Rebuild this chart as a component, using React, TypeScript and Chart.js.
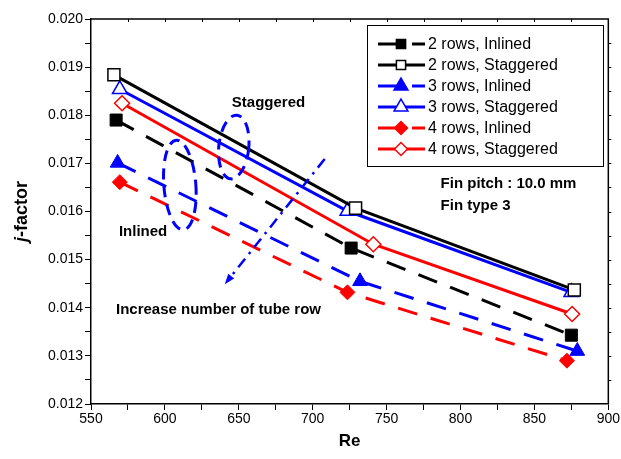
import React, { useEffect, useRef } from 'react';
import { Chart, registerables } from 'chart.js';

Chart.register(...registerables);

// ---- data ----
const re2Inlined = [567, 726, 875];
const j2Inlined = [0.0179, 0.01524, 0.01343];
const re2Staggered = [565.5, 729, 877];
const j2Staggered = [0.01884, 0.01607, 0.01437];
const re3Inlined = [568, 732, 879];
const j3Inlined = [0.01701, 0.01455, 0.0131];
const re3Staggered = [569.5, 723.5, 875];
const j3Staggered = [0.01854, 0.01601, 0.01432];
const re4Inlined = [569.5, 723.5, 872];
const j4Inlined = [0.01661, 0.01432, 0.0129];
const re4Staggered = [571, 741, 875.5];
const j4Staggered = [0.01825, 0.01532, 0.01387];

const seriesLabels = [
  '2 rows, Inlined',
  '2 rows, Staggered',
  '3 rows, Inlined',
  '3 rows, Staggered',
  '4 rows, Inlined',
  '4 rows, Staggered',
];

const xMin = 550;
const xMax = 900;
const xStep = 25;
const xLabelStep = 50;
const yMin = 0.012;
const yMax = 0.02;
const yStep = 0.0005;

// annotations (data coordinates)
const noteTexts = [
  { text: 'Staggered', x: 645.3, y: 0.01825 },
  { text: 'Inlined', x: 568.9, y: 0.01557 },
  { text: 'Increase number of tube row', x: 566.9, y: 0.01395 },
  { text: 'Fin pitch : 10.0 mm', x: 786.5, y: 0.01657 },
  { text: 'Fin type 3', x: 786.5, y: 0.01611 },
];
const noteEllipses = [
  { x: 646.6, y: 0.01734, rx: 15, ry: 32, rot: 0.1 },
  { x: 610.1, y: 0.01655, rx: 16, ry: 45, rot: -0.08 },
];
const noteArrow = { x1: 708.1, y1: 0.01709, x2: 640.5, y2: 0.01449 };

const FONT = "'Liberation Sans', Arial, Helvetica, sans-serif";

const BLACK = '#000000';
const BLUE = '#0000ff';
const RED = '#ff0000';

type Spec = {
  re: number[];
  j: number[];
  color: string;
  style: 'rect' | 'triangle' | 'rectRot';
  filled: boolean;
};

const specs: Spec[] = [
  { re: re2Inlined, j: j2Inlined, color: BLACK, style: 'rect', filled: true },
  { re: re2Staggered, j: j2Staggered, color: BLACK, style: 'rect', filled: false },
  { re: re3Inlined, j: j3Inlined, color: BLUE, style: 'triangle', filled: true },
  { re: re3Staggered, j: j3Staggered, color: BLUE, style: 'triangle', filled: false },
  { re: re4Inlined, j: j4Inlined, color: RED, style: 'rectRot', filled: true },
  { re: re4Staggered, j: j4Staggered, color: RED, style: 'rectRot', filled: false },
];

const plotRadius: Record<string, number> = { rect: 8.5, triangle: 8.5, rectRot: 7.5 };
const legendRadius: Record<string, number> = { rect: 6.5, triangle: 8, rectRot: 6.5 };

function drawMarker(
  ctx: CanvasRenderingContext2D,
  style: string,
  x: number,
  y: number,
  r: number,
  fill: string,
  stroke: string,
  lw: number
) {
  ctx.save();
  ctx.setLineDash([]);
  ctx.beginPath();
  if (style === 'rect') {
    const s = r * Math.SQRT1_2;
    ctx.rect(x - s, y - s, 2 * s, 2 * s);
  } else if (style === 'triangle') {
    for (let k = 0; k < 3; k++) {
      const a = (k * 2 * Math.PI) / 3;
      const px = x + Math.sin(a) * r;
      const py = y - Math.cos(a) * r;
      if (k === 0) ctx.moveTo(px, py);
      else ctx.lineTo(px, py);
    }
    ctx.closePath();
  } else {
    ctx.moveTo(x - r, y);
    ctx.lineTo(x, y - r);
    ctx.lineTo(x + r, y);
    ctx.lineTo(x, y + r);
    ctx.closePath();
  }
  ctx.fillStyle = fill;
  ctx.fill();
  ctx.lineWidth = lw;
  ctx.strokeStyle = stroke;
  ctx.stroke();
  ctx.restore();
}

const decorPlugin = {
  id: 'decor',
  afterDatasetsDraw(chart: any) {
    const ctx: CanvasRenderingContext2D = chart.ctx;
    const xs = chart.scales.x;
    const ys = chart.scales.y;
    const ca = chart.chartArea;

    // frame: top and right
    ctx.save();
    ctx.strokeStyle = BLACK;
    ctx.lineWidth = 1.5;
    ctx.beginPath();
    ctx.moveTo(ca.left, ca.top);
    ctx.lineTo(ca.right, ca.top);
    ctx.lineTo(ca.right, ca.bottom);
    ctx.stroke();
    ctx.lineWidth = 1;
    ctx.beginPath();
    for (let v = xMin + xStep; v < xMax; v += xStep) {
      const px = Math.round(xs.getPixelForValue(v)) + 0.5;
      ctx.moveTo(px, ca.top);
      ctx.lineTo(px, ca.top + 3);
    }
    for (let k = 1; k < Math.round((yMax - yMin) / yStep); k++) {
      const py = Math.round(ys.getPixelForValue(yMin + k * yStep)) + 0.5;
      ctx.moveTo(ca.right, py);
      ctx.lineTo(ca.right + 3, py);
    }
    ctx.stroke();
    ctx.restore();

    // ellipses
    ctx.save();
    ctx.strokeStyle = BLUE;
    ctx.lineWidth = 3;
    ctx.setLineDash([11, 7]);
    noteEllipses.forEach((e) => {
      ctx.beginPath();
      ctx.ellipse(xs.getPixelForValue(e.x), ys.getPixelForValue(e.y), e.rx, e.ry, e.rot, 0, Math.PI * 2);
      ctx.stroke();
    });
    ctx.restore();

    // arrow
    ctx.save();
    const ax1 = xs.getPixelForValue(noteArrow.x1);
    const ay1 = ys.getPixelForValue(noteArrow.y1);
    const ax2 = xs.getPixelForValue(noteArrow.x2);
    const ay2 = ys.getPixelForValue(noteArrow.y2);
    const ang = Math.atan2(ay2 - ay1, ax2 - ax1);
    const headLen = 11;
    ctx.strokeStyle = BLUE;
    ctx.lineWidth = 2.5;
    ctx.setLineDash([11, 6, 2.5, 6]);
    ctx.beginPath();
    ctx.moveTo(ax1, ay1);
    ctx.lineTo(ax2 - Math.cos(ang) * headLen * 0.8, ay2 - Math.sin(ang) * headLen * 0.8);
    ctx.stroke();
    ctx.setLineDash([]);
    ctx.fillStyle = BLUE;
    ctx.beginPath();
    ctx.moveTo(ax2, ay2);
    ctx.lineTo(ax2 - Math.cos(ang - 0.35) * headLen, ay2 - Math.sin(ang - 0.35) * headLen);
    ctx.lineTo(ax2 - Math.cos(ang + 0.35) * headLen, ay2 - Math.sin(ang + 0.35) * headLen);
    ctx.closePath();
    ctx.fill();
    ctx.restore();

    // texts
    ctx.save();
    ctx.fillStyle = BLACK;
    ctx.font = `bold 15px ${FONT}`;
    ctx.textAlign = 'left';
    ctx.textBaseline = 'middle';
    noteTexts.forEach((t) => {
      ctx.fillText(t.text, xs.getPixelForValue(t.x), ys.getPixelForValue(t.y));
    });
    ctx.restore();
  },
  afterDraw(chart: any) {
    const ctx: CanvasRenderingContext2D = chart.ctx;
    const ca = chart.chartArea;

    // legend
    const bx = 367;
    const by = 25;
    const bw = 236;
    const bh = 141;
    ctx.save();
    ctx.fillStyle = '#ffffff';
    ctx.fillRect(bx, by, bw, bh);
    ctx.strokeStyle = BLACK;
    ctx.lineWidth = 1;
    ctx.strokeRect(bx + 0.5, by + 0.5, bw, bh);
    const rowY0 = 44;
    const rowDy = 21;
    chart.data.datasets.forEach((ds: any, i: number) => {
      const sp = specs[i];
      const y = rowY0 + i * rowDy;
      const x0 = 378;
      const x1 = 425;
      const mx = 401;
      ctx.strokeStyle = sp.color;
      ctx.lineWidth = 3;
      ctx.setLineDash([]);
      ctx.beginPath();
      if (sp.filled) {
        ctx.moveTo(x0, y);
        ctx.lineTo(mx, y);
        ctx.moveTo(412, y);
        ctx.lineTo(x1, y);
      } else {
        ctx.moveTo(x0, y);
        ctx.lineTo(x1, y);
      }
      ctx.stroke();
      drawMarker(ctx, sp.style, mx, y, legendRadius[sp.style], sp.filled ? sp.color : '#ffffff', sp.color, 1.5);
      ctx.fillStyle = BLACK;
      ctx.font = `16px ${FONT}`;
      ctx.textAlign = 'left';
      ctx.textBaseline = 'middle';
      ctx.fillText(ds.label, 428, y + 1);
    });
    ctx.restore();

    // axis titles
    ctx.save();
    ctx.fillStyle = BLACK;
    ctx.textBaseline = 'middle';
    ctx.font = `bold 17px ${FONT}`;
    ctx.textAlign = 'center';
    ctx.fillText('Re', (ca.left + ca.right) / 2, 441);
    ctx.translate(22, (ca.top + ca.bottom) / 2);
    ctx.rotate(-Math.PI / 2);
    ctx.font = `italic bold 18px ${FONT}`;
    const wj = ctx.measureText('j').width;
    ctx.font = `bold 18px ${FONT}`;
    const wr = ctx.measureText('-factor').width;
    const start = -(wj + wr) / 2;
    ctx.textAlign = 'left';
    ctx.font = `italic bold 18px ${FONT}`;
    ctx.fillText('j', start, 0);
    ctx.font = `bold 18px ${FONT}`;
    ctx.fillText('-factor', start + wj, 0);
    ctx.restore();
  },
};

export default function App() {
  const ref = useRef<HTMLCanvasElement | null>(null);

  useEffect(() => {
    document.body.style.margin = '0';
    const canvas = ref.current;
    if (!canvas) return;

    const datasets = specs.map((sp, i) => ({
      label: seriesLabels[i],
      data: sp.re.map((x, k) => ({ x, y: sp.j[k] })),
      borderColor: sp.color,
      backgroundColor: sp.filled ? sp.color : '#ffffff',
      borderWidth: 3,
      borderDash: sp.filled ? [20, 14] : [],
      pointStyle: sp.style,
      pointRadius: plotRadius[sp.style],
      pointBorderWidth: sp.filled ? 1 : 1.5,
      pointBorderColor: sp.color,
      pointBackgroundColor: sp.filled ? sp.color : '#ffffff',
      pointHoverRadius: plotRadius[sp.style],
      tension: 0,
      showLine: true,
      fill: false,
    }));

    const chart = new Chart(canvas, {
      type: 'scatter',
      data: { datasets },
      options: {
        animation: false,
        responsive: false,
        devicePixelRatio: 1,
        events: [],
        layout: { padding: { top: 19, right: 12, left: 0, bottom: 0 } },
        plugins: {
          legend: { display: false },
          tooltip: { enabled: false },
          title: { display: false },
        },
        scales: {
          x: {
            type: 'linear',
            min: xMin,
            max: xMax,
            afterFit: (s: any) => {
              s.height = 55;
            },
            ticks: {
              stepSize: xStep,
              autoSkip: false,
              maxRotation: 0,
              padding: 1,
              color: BLACK,
              font: { family: FONT, size: 14 },
              callback: (v: any) => (Math.round(Number(v)) % xLabelStep === 0 ? String(Math.round(Number(v))) : ''),
            },
            grid: {
              drawOnChartArea: false,
              drawTicks: true,
              tickLength: 6,
              color: BLACK,
              tickWidth: 1,
            },
            border: { display: true, color: BLACK, width: 1.5 },
          },
          y: {
            type: 'linear',
            min: yMin,
            max: yMax,
            afterFit: (s: any) => {
              s.width = 91;
            },
            ticks: {
              stepSize: yStep,
              autoSkip: false,
              padding: 2,
              color: BLACK,
              font: { family: FONT, size: 14 },
              callback: (v: any) => {
                const n = Math.round(Number(v) * 10000);
                return n % 10 === 0 ? (n / 10000).toFixed(3) : '';
              },
            },
            grid: {
              drawOnChartArea: false,
              drawTicks: true,
              tickLength: 6,
              color: BLACK,
              tickWidth: 1,
            },
            border: { display: true, color: BLACK, width: 1.5 },
          },
        },
      },
      plugins: [decorPlugin],
    });

    return () => {
      chart.destroy();
    };
  }, []);

  return (
    <div style={{ position: 'fixed', left: 0, top: 0, width: 621, height: 459, background: '#fff' }}>
      <canvas ref={ref} width={621} height={459} style={{ display: 'block', width: 621, height: 459 }} />
    </div>
  );
}
